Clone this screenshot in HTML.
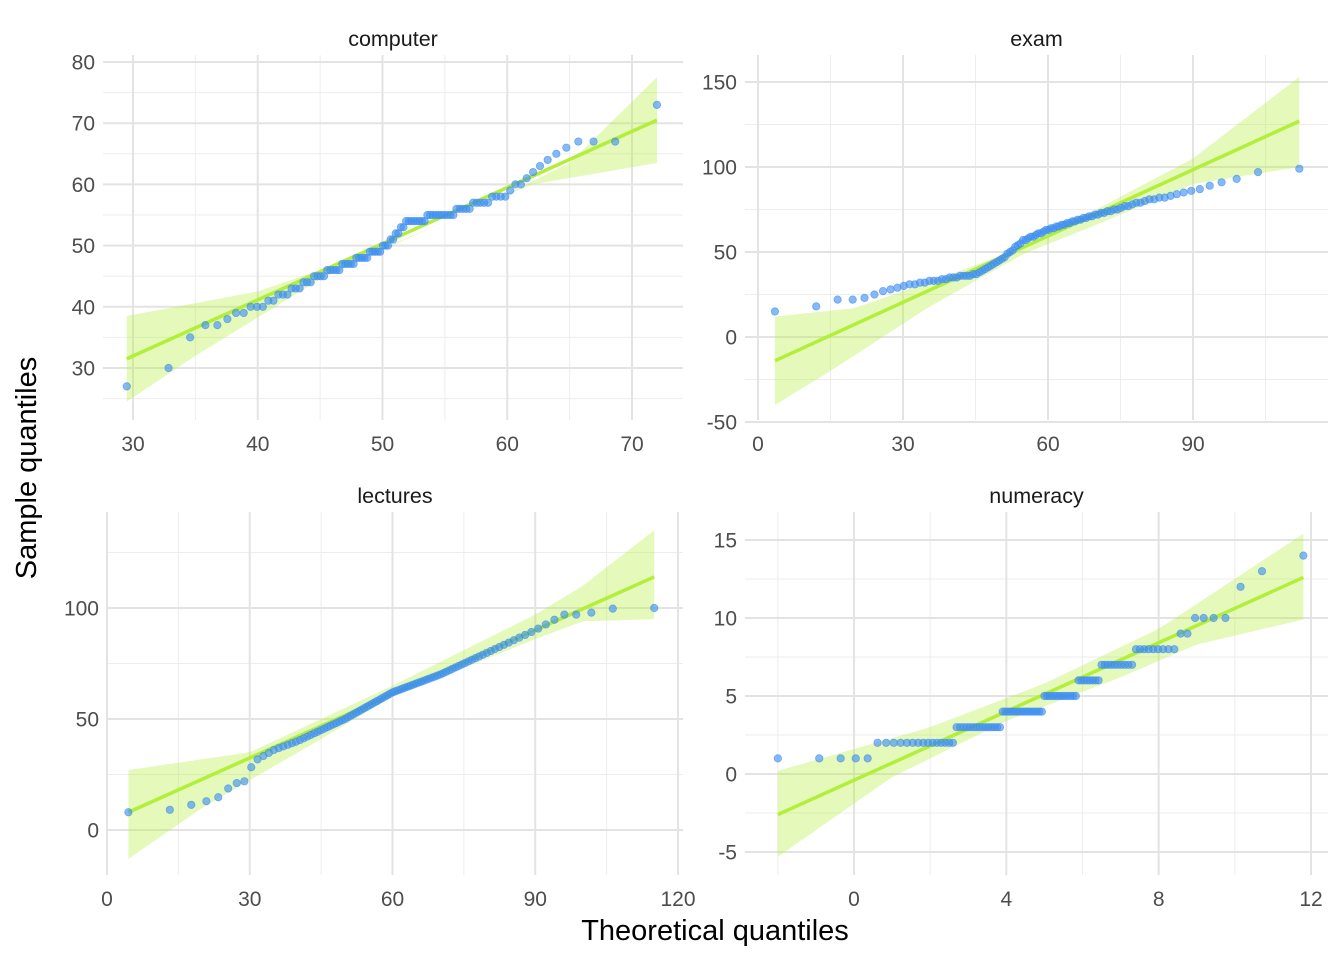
<!DOCTYPE html>
<html><head><meta charset="utf-8"><style>
html,body{margin:0;padding:0;background:#fff;}
svg{display:block;font-family:"Liberation Sans",sans-serif;}
</style></head><body>
<svg id="s" width="1344" height="960" xmlns="http://www.w3.org/2000/svg"></svg>
<script>
const S=document.getElementById('s');let h='';
function qn(p){const a=[-39.6968302866538,220.946098424521,-275.928510446969,138.357751867269,-30.6647980661472,2.50662827745924],b=[-54.4760987982241,161.585836858041,-155.698979859887,66.8013118877197,-13.2806815528857],c=[-0.00778489400243029,-0.322396458041136,-2.40075827716184,-2.54973253934373,4.37466414146497,2.93816398269878],d=[0.00778469570904146,0.32246712907004,2.445134137143,3.75440866190742];let q,r;if(p<0.02425){q=Math.sqrt(-2*Math.log(p));return(((((c[0]*q+c[1])*q+c[2])*q+c[3])*q+c[4])*q+c[5])/((((d[0]*q+d[1])*q+d[2])*q+d[3])*q+1);}if(p>1-0.02425){q=Math.sqrt(-2*Math.log(1-p));return-(((((c[0]*q+c[1])*q+c[2])*q+c[3])*q+c[4])*q+c[5])/((((d[0]*q+d[1])*q+d[2])*q+d[3])*q+1);}q=p-0.5;r=q*q;return(((((a[0]*r+a[1])*r+a[2])*r+a[3])*r+a[4])*r+a[5])*q/(((((b[0]*r+b[1])*r+b[2])*r+b[3])*r+b[4])*r+1);}
function interp(k,x){if(x<=k[0][0])return k[0][1];for(let i=1;i<k.length;i++){if(x<=k[i][0]){const t=(x-k[i-1][0])/(k[i][0]-k[i-1][0]);return k[i-1][1]+t*(k[i][1]-k[i-1][1]);}}return k[k.length-1][1];}
function panel(P){
 const X=v=>P.x0+(v-P.xa)*(P.x1-P.x0)/(P.xb-P.xa), Y=v=>P.y0+(v-P.ya)*(P.y1-P.y0)/(P.yb-P.ya);
 P.xmin.forEach(v=>h+=`<line x1="${X(v)}" x2="${X(v)}" y1="${P.top}" y2="${P.bot}" stroke="#ededed" stroke-width="1"/>`);
 P.ymin.forEach(v=>h+=`<line y1="${Y(v)}" y2="${Y(v)}" x1="${P.left}" x2="${P.right}" stroke="#ededed" stroke-width="1"/>`);
 P.xmaj.forEach(v=>h+=`<line x1="${X(v)}" x2="${X(v)}" y1="${P.top}" y2="${P.bot}" stroke="#e3e3e3" stroke-width="2"/>`);
 P.ymaj.forEach(v=>h+=`<line y1="${Y(v)}" y2="${Y(v)}" x1="${P.left}" x2="${P.right}" stroke="#e3e3e3" stroke-width="2"/>`);
 P.xmaj.forEach(v=>h+=`<text x="${X(v)}" y="${P.bot+31}" font-size="21" fill="#4d4d4d" text-anchor="middle">${v}</text>`);
 P.ymaj.forEach(v=>h+=`<text x="${P.left-8}" y="${Y(v)+7.5}" font-size="21" fill="#4d4d4d" text-anchor="end">${v}</text>`);
 h+=`<text x="${(P.left+P.right)/2}" y="${P.top-9}" font-size="21.5" fill="#1a1a1a" text-anchor="middle">${P.name}</text>`;
 let up=[],lo=[];const N=60;
 for(let i=0;i<=N;i++){const x=P.t0+(P.t1-P.t0)*i/N;up.push(X(x)+','+Y(interp(P.bu,x)));lo.push(X(x)+','+Y(interp(P.bl,x)));}
 h+=`<polygon points="${up.join(' ')} ${lo.reverse().join(' ')}" fill="#b3ee3a" fill-opacity="0.35"/>`;
 h+=`<line x1="${X(P.t0)}" y1="${Y(P.l0)}" x2="${X(P.t1)}" y2="${Y(P.l1)}" stroke="#b3ee3a" stroke-width="3.5"/>`;
 const n=100,m=(P.t0+P.t1)/2,sd=(P.t1-P.t0)/(2*2.5758);
 for(let i=1;i<=n;i++){const t=m+sd*qn((i-0.5)/n);let v=P.f(t,i);
  h+=`<circle cx="${X(t)}" cy="${Y(v)}" r="3.7" fill="#3d8ef0" fill-opacity="0.62" stroke="#3d8ef0" stroke-opacity="0.65" stroke-width="0.8"/>`;}
}
panel({name:'computer',x0:133,x1:632,xa:30,xb:70,y0:368,y1:62,ya:30,yb:80,left:103,right:683,top:55,bot:420,
 xmaj:[30,40,50,60,70],xmin:[35,45,55,65],ymaj:[30,40,50,60,70,80],ymin:[25,35,45,55,65,75],
 t0:29.5,t1:72,l0:31.5,l1:70.5,bu:[[29.5,38.5],[40,42.5],[50,49.5],[60,58.5],[65,63.5],[72,77.5]],bl:[[29.5,24.5],[35,32],[45,44.5],[55,54],[62,60],[72,63.5]],
 f:(t,i)=>{if(i==1)return 27;if(i==2)return 30;if(i==100)return 73;return Math.round(interp([[34,35],[40,40],[45,45],[50,49.5],[52,54],[55,55],[60,58.5],[62,62],[64,65.5],[66,67],[70,67]],t));}});
panel({name:'exam',x0:758,x1:1193,xa:0,xb:90,y0:337,y1:82,ya:0,yb:150,left:745,right:1328,top:55,bot:420,
 xmaj:[0,30,60,90],xmin:[15,45,75,105],ymaj:[-50,0,50,100,150],ymin:[-25,25,75,125],
 t0:3.5,t1:112,l0:-14,l1:127,bu:[[3.5,12],[20,17],[40,37],[55,53],[70,75],[90,105],[112,153]],bl:[[3.5,-40],[15,-20],[35,17],[55,49],[70,66],[90,90],[112,100]],
 f:(t,i)=>Math.round(interp([[3.5,15],[12,18],[17,22],[21,22],[24,25],[30,30],[45,37],[50,45],[55,57],[60,63],[70,72],[80,80],[90,86],[100,94],[104,97],[112,99]],t))});
panel({name:'lectures',x0:107,x1:678,xa:0,xb:120,y0:830,y1:608,ya:0,yb:100,left:107,right:683,top:512,bot:875,
 xmaj:[0,30,60,90,120],xmin:[15,45,75,105],ymaj:[0,50,100],ymin:[25,75,125],
 t0:4.5,t1:115,l0:8,l1:114,bu:[[4.5,27],[30,35],[60,65],[90,97],[100,110],[115,135]],bl:[[4.5,-13],[20,10],[45,41],[60,60],[90,86],[100,94],[115,95]],
 f:(t,i)=>interp([[4.5,8],[13,9],[17,11],[20,12.5],[23,14],[25,18],[27,21],[29,22],[30,27],[31,31],[35,36],[40,40],[50,50],[60,62],[70,70],[80,80],[90,90],[96,97],[99,97],[102,98],[107,100],[115,100]],t)});
panel({name:'numeracy',x0:854,x1:1311,xa:0,xb:12,y0:774,y1:540,ya:0,yb:15,left:745,right:1328,top:512,bot:875,
 xmaj:[0,4,8,12],xmin:[-2,2,6,10],ymaj:[-5,0,5,10,15],ymin:[-2.5,2.5,7.5,12.5],
 t0:-2,t1:11.8,l0:-2.6,l1:12.6,bu:[[-2,0.2],[2,3],[5,5.8],[8,9.3],[11.8,15.4]],bl:[[-2,-5.3],[1,-0.2],[4,3.4],[7,6.2],[9,8.3],[11.8,9.9]],
 f:(t,i)=>{if(i==98)return 12;if(i==99)return 13;if(i==100)return 14;const th=[[0.45,1],[2.65,2],[3.9,3],[4.95,4],[5.85,5],[6.45,6],[7.35,7],[8.55,8],[8.85,9],[99,10]];for(const[a,v]of th)if(t<a)return v;return 10;}});
h+=`<text x="715" y="940" font-size="29" fill="#000" text-anchor="middle">Theoretical quantiles</text>`;
h+=`<text transform="translate(36,468) rotate(-90)" font-size="29" fill="#000" text-anchor="middle">Sample quantiles</text>`;
S.innerHTML=h;
</script>
</body></html>
